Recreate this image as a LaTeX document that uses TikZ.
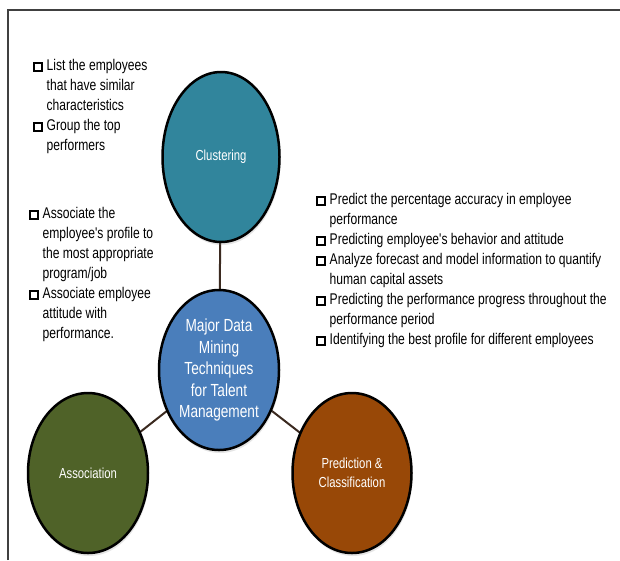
\documentclass[tikz,border=0pt]{standalone}
\usepackage{fontspec}
\newfontfamily\narrowfont[FakeStretch=0.78]{Liberation Sans}
\usetikzlibrary{shapes.geometric,positioning,shadows}

\definecolor{clusCol}{HTML}{31859C}
\definecolor{coreCol}{HTML}{4A7EBB}
\definecolor{assocCol}{HTML}{4F6228}
\definecolor{predCol}{HTML}{984807}
\definecolor{linkCol}{HTML}{3B2A20}

\newcommand{\sqb}{{\setlength{\fboxsep}{0pt}\setlength{\fboxrule}{1.5pt}\fbox{\rule{0pt}{6.5pt}\hspace{6.5pt}}}}
\newcommand{\itm}{\makebox[13.5pt][l]{\sqb}}
\newcommand{\cnt}{\hspace*{13.5pt}}

\tikzset{
  blob/.style={ellipse, draw=black, line width=2.5pt, inner sep=0pt,
    drop shadow={opacity=0.2, shadow xshift=1pt, shadow yshift=-3pt},
    text=white, align=center, font=\narrowfont\fontsize{14.5}{19}\selectfont},
  notes/.style={anchor=north west, inner sep=0pt, align=left,
    font=\narrowfont\fontsize{15.5}{20}\selectfont},
  link/.style={draw=linkCol, line width=2pt}
}

\begin{document}
\begin{tikzpicture}[x=1pt,y=-1pt]
\useasboundingbox (0,0) rectangle (620,560);
\fill[white] (0,0) rectangle (620,560);

% frame
\draw[line width=2.5pt, black!75] (8,560) -- (8,10) -- (620,10);

% links
\coordinate (cClus) at (221,157);
\coordinate (cCore) at (219,370);
\coordinate (cAssoc) at (88,473);
\coordinate (cPred) at (352,473);
\draw[link] (cClus) -- (cCore);
\draw[link] (cCore) -- (cAssoc);
\draw[link] (cCore) -- (cPred);

% ellipses
\node[blob, fill=clusCol, minimum width=117, minimum height=170] (nClus) at (cClus) {Clustering};
\node[blob, fill=coreCol, minimum width=120, minimum height=160,
  font=\narrowfont\fontsize{17.5}{21.5}\selectfont] (nCore) at (cCore)
  {Major Data\\Mining\\Techniques\\for Talent\\Management};
\node[blob, fill=assocCol, minimum width=120, minimum height=160] (nAssoc) at (cAssoc) {Association};
\node[blob, fill=predCol, minimum width=119, minimum height=160] (nPred) at (cPred)
  {Prediction \&\\Classification};

% notes
\node[notes] (tClus) at (33,59) {\itm List the employees\\
  \cnt that have similar\\
  \cnt characteristics\\
  \itm Group the top\\
  \cnt performers};

\node[notes] (tAssoc) at (29,207) {\itm Associate the\\
  \cnt employee's profile to\\
  \cnt the most appropriate\\
  \cnt program/job\\
  \itm Associate employee\\
  \cnt attitude with\\
  \cnt performance.};

\node[notes] (tPred) at (316,193) {\itm Predict the percentage accuracy in employee\\
  \cnt performance\\
  \itm Predicting employee's behavior and attitude\\
  \itm Analyze forecast and model information to quantify\\
  \cnt human capital assets\\
  \itm Predicting the performance progress throughout the\\
  \cnt performance period\\
  \itm Identifying the best profile for different employees};

\end{tikzpicture}
\end{document}
